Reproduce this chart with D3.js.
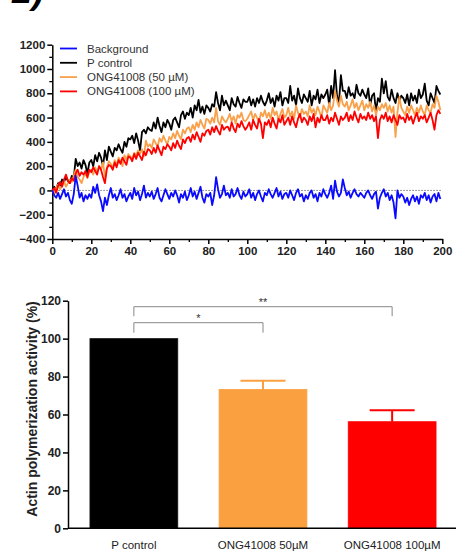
<!DOCTYPE html>
<html>
<head>
<meta charset="utf-8">
<script src="https://cdn.jsdelivr.net/npm/d3@7"></script>
<style>
  body { margin: 0; background: #fff; }
  svg { display: block; font-family: Arial, "Liberation Sans", sans-serif; }
  .tick text { fill: #222; }
</style>
</head>
<body>
<div id="chart"></div>
<script>
// ---- time course data (x = 0..199) ----
const background = [
  0, -40, -60, -20, -70, -30, 10, -50, -20, -80,
  -110, -30, 120, 40, -60, -20, -90, -40, -70, -30,
  -60, 30, -20, 50, -40, -90, -170, -60, -120, -40,
  20, -60, -30, -80, -40, 10, -60, -30, -90, -50,
  -20, -70, 20, -40, -10, -80, -30, 40, -60, -20,
  -50, -10, -70, -30, 20, -60, -90, -40, 10, -30,
  -70, -20, -50, 0, -40, -100, -30, -60, -10, -80,
  -40, 20, -50, -10, -70, -20, 30, -60, -100, -30,
  -50, -20, -120, -40, 110, 10, -60, -30, 40, -40,
  -20, -60, 10, -50, -30, 20, -40, -70, -10, -50,
  -30, 10, -60, -20, -80, -30, 0, -50, -90, -20,
  -40, 10, -30, -60, -20, 20, -50, -10, -70, -30,
  -20, -60, 0, -40, -80, -20, 10, -50, -30, -90,
  -40, -70, -20, 0, -60, -30, -90, -20, -50, 10,
  -30, -60, -20, 40, -70, 80, -10, -50, -20, 90,
  20, -40, -10, -60, -20, 10, -30, -50, -20, -40,
  -60, -20, 0, -40, -70, -30, -10, -150, -60, -20,
  10, -50, -20, -80, -40, -100, -230, 0, -60, -30,
  -50, -100, -60, -120, -70, -40, -90, -50, -110, -40,
  -60, -20, -80, -40, -100, -50, -30, -90, -20, -70
];
const pControl = [
  0, 30, 10, 60, 40, 90, 70, 110, 80, 60,
  120, 100, 260, 200, 230, 180, 250, 210, 140, 230,
  250, 200, 290, 240, 310, 270, 200, 330, 250, 360,
  320, 280, 350, 330, 380, 340, 310, 400, 360, 430,
  420, 450, 390, 470, 410, 330, 480, 500, 470, 520,
  500, 490, 560, 510, 600, 530, 480, 560, 520, 580,
  550, 500, 580, 600, 560, 520, 620, 650, 590, 640,
  620, 680, 600, 700, 660, 745, 640, 690, 630, 700,
  680, 650, 710, 690, 810, 720, 660, 780, 700, 740,
  700, 660, 760, 710, 690, 770, 720, 680, 750, 730,
  730, 770, 700, 750, 690, 760, 720, 780, 730, 700,
  740, 800, 720, 760, 690, 780, 740, 810, 700, 760,
  760, 720, 860, 740, 780, 700, 840, 760, 720, 790,
  760, 730, 820, 700, 780, 750, 830, 720, 790, 760,
  790, 830, 700, 860, 760, 990, 780, 720, 950, 820,
  820, 760, 850, 780, 800, 760, 870, 800, 780, 830,
  790, 760, 840, 700, 780, 800, 650, 760, 730, 920,
  800, 900, 770, 740, 830, 760, 720, 800, 740, 780,
  760, 720, 790, 700, 800, 740, 780, 720, 830, 760,
  790, 880, 740, 700, 800, 760, 720, 860, 820, 790
];
const ong50 = [
  0, -30, 20, 50, 10, 40, 80, 30, 60, 90,
  70, 120, 170, 110, 90, 60, 110, 140, 100, 160,
  170, 130, 190, 150, 200, 170, 230, 110, 190, 240,
  220, 180, 250, 210, 270, 240, 200, 290, 250, 300,
  280, 260, 310, 290, 330, 300, 340, 280, 410, 360,
  380, 350, 420, 390, 360, 430, 400, 450, 410, 380,
  440, 420, 470, 430, 490, 450, 420, 500, 470, 510,
  520, 480, 540, 500, 560, 520, 580, 540, 510, 590,
  580, 550, 600, 560, 680, 570, 540, 610, 580, 560,
  590, 630, 570, 610, 550, 620, 600, 640, 580, 570,
  590, 620, 650, 580, 630, 600, 560, 640, 610, 660,
  600, 640, 590, 680, 620, 650, 580, 630, 670, 600,
  620, 680, 610, 650, 590, 700, 640, 600, 670, 630,
  650, 610, 700, 640, 670, 620, 690, 650, 600, 700,
  670, 640, 720, 660, 700, 820, 740, 690, 780, 710,
  690, 730, 660, 700, 750, 680, 720, 660, 700, 740,
  660, 710, 680, 730, 650, 700, 620, 690, 660, 710,
  680, 720, 650, 700, 640, 690, 440, 640, 770, 680,
  650, 620, 690, 640, 700, 660, 620, 680, 640, 700,
  650, 620, 700, 660, 640, 710, 680, 780, 730, 660
];
const ong100 = [
  0, 20, -20, 40, 70, 30, 90, 130, 80, 60,
  100, 80, 140, 170, 120, 150, 130, 160, 110, 170,
  150, 190, 160, 130, 200, 170, 110, 60, 180, 210,
  200, 170, 230, 190, 250, 220, 270, 240, 210, 280,
  270, 240, 300, 260, 310, 280, 250, 320, 290, 340,
  330, 300, 350, 310, 370, 330, 290, 360, 340, 380,
  360, 330, 390, 350, 410, 370, 340, 420, 390, 430,
  440, 400, 460, 420, 480, 440, 400, 470, 450, 490,
  500, 460, 520, 480, 530, 490, 460, 540, 500, 520,
  525, 490, 560, 510, 480, 550, 520, 570, 530, 500,
  525, 560, 500, 580, 540, 510, 590, 550, 430, 560,
  540, 580, 520, 600, 550, 510, 590, 560, 620, 540,
  570, 600, 540, 610, 560, 520, 590, 630, 560, 600,
  580, 540, 610, 570, 630, 520, 600, 560, 620, 580,
  580, 620, 550, 600, 570, 640, 590, 540, 610, 580,
  600, 640, 570, 620, 580, 650, 600, 560, 630, 590,
  610, 580, 640, 590, 620, 570, 610, 430, 580, 620,
  590, 640, 570, 610, 560, 620, 580, 540, 620, 590,
  600, 560, 630, 580, 610, 550, 600, 640, 570, 610,
  590, 620, 560, 600, 640, 580, 500, 620, 660, 630
];
const seriesNames = ["Background", "P control", "ONG41008 (50 \u00b5M)", "ONG41008 (100 \u00b5M)"];
const seriesColors = ["#0a0aff", "#000000", "#f9a04a", "#ff0000"];

// ---- bar chart data ----
const groups = ["P control", "ONG41008 50\u00b5M", "ONG41008 100\u00b5M"];
const activity = [100, 73.2, 56.2];
const activityErr = [0, 4.6, 6];
const barColors = ["#000000", "#fba040", "#ff0000"];

const width = 457, height = 555;
const svg = d3.select("#chart").append("svg")
    .attr("width", width)
    .attr("height", height);

// panel letter, cut by the top edge as in the source figure
svg.append("text")
    .attr("x", 12).attr("y", 3)
    .attr("font-size", 36).attr("font-weight", "bold").attr("font-style", "italic")
    .text("2)");

/* ========== TOP: time course ========== */
const x1 = d3.scaleLinear().domain([0, 200]).range([52.3, 442.3]);
const y1 = d3.scaleLinear().domain([-400, 1200]).range([239, 44.7]);

// minor ticks
svg.append("g")
    .attr("transform", `translate(0,${y1(-400)})`)
    .call(d3.axisBottom(x1).tickValues(d3.range(10, 200, 20)).tickSize(3).tickFormat(""))
    .call(g => g.select(".domain").remove())
    .selectAll("line").attr("stroke-width", 1.3);
svg.append("g")
    .attr("transform", `translate(${x1(0)},0)`)
    .call(d3.axisLeft(y1).tickValues(d3.range(-300, 1200, 200)).tickSize(3).tickFormat(""))
    .call(g => g.select(".domain").remove())
    .selectAll("line").attr("stroke-width", 1.3);

const xAxis1 = svg.append("g")
    .attr("transform", `translate(0,${y1(-400)})`)
    .call(d3.axisBottom(x1).tickValues(d3.range(0, 201, 20)).tickSize(5).tickSizeOuter(0).tickPadding(3));
const yAxis1 = svg.append("g")
    .attr("transform", `translate(${x1(0)},0)`)
    .call(d3.axisLeft(y1).tickValues(d3.range(-400, 1201, 200)).tickFormat(d3.format("d"))
        .tickSize(5).tickSizeOuter(0).tickPadding(2));
[xAxis1, yAxis1].forEach(a => {
    a.selectAll("path, line").attr("stroke-width", 1.5);
    a.selectAll("text").attr("font-size", 11.5).attr("font-weight", "bold")
        .attr("font-family", "Arial, 'Liberation Sans', sans-serif");
});

// dotted zero line
svg.append("line")
    .attr("x1", x1(0)).attr("x2", x1(200))
    .attr("y1", y1(0)).attr("y2", y1(0))
    .attr("stroke", "#777").attr("stroke-width", 1)
    .attr("stroke-dasharray", "1.5,1.5");

const line = d3.line()
    .x((d, i) => x1(i))
    .y(d => y1(d));

const allSeries = [background, pControl, ong50, ong100];
const drawOrder = [1, 2, 3, 0];
drawOrder.forEach(k => {
    svg.append("path")
        .datum(allSeries[k])
        .attr("d", line)
        .attr("fill", "none")
        .attr("stroke", seriesColors[k])
        .attr("stroke-width", 1.8)
        .attr("stroke-linejoin", "round");
});

// legend
seriesNames.forEach((name, i) => {
    const ly = 48.5 + i * 14.3;
    svg.append("line")
        .attr("x1", 60).attr("x2", 77)
        .attr("y1", ly).attr("y2", ly)
        .attr("stroke", seriesColors[i]).attr("stroke-width", 1.8);
    svg.append("text")
        .attr("x", 87).attr("y", ly + 4)
        .attr("font-size", 11.5).attr("fill", "#333")
        .text(name);
});

/* ========== BOTTOM: bar chart ========== */
const x2 = d3.scaleBand().domain(groups).range([68, 458]).paddingInner(0.32).paddingOuter(0.17);
const y2 = d3.scaleLinear().domain([0, 120]).range([528.3, 300.7]);

svg.selectAll("rect.bar")
    .data(groups)
    .enter()
    .append("rect")
    .attr("class", "bar")
    .attr("x", d => x2(d))
    .attr("y", (d, i) => y2(activity[i]))
    .attr("width", x2.bandwidth())
    .attr("height", (d, i) => y2(0) - y2(activity[i]))
    .attr("fill", (d, i) => barColors[i])
    .attr("stroke", (d, i) => i === 0 ? "#111" : barColors[i])
    .attr("stroke-width", 0.8);

// error bars (upper only)
groups.forEach((g, i) => {
    if (!activityErr[i]) return;
    const cx = x2(g) + x2.bandwidth() / 2;
    const top = y2(activity[i] + activityErr[i]);
    svg.append("line")
        .attr("x1", cx).attr("x2", cx)
        .attr("y1", y2(activity[i])).attr("y2", top)
        .attr("stroke", barColors[i]).attr("stroke-width", 2);
    svg.append("line")
        .attr("x1", cx - 22.5).attr("x2", cx + 22.5)
        .attr("y1", top).attr("y2", top)
        .attr("stroke", barColors[i]).attr("stroke-width", 2);
});

const xAxis2 = svg.append("g")
    .attr("transform", `translate(0,${y2(0)})`)
    .call(d3.axisBottom(x2).tickSize(0).tickPadding(13));
xAxis2.select(".domain").attr("d", `M68,0H456`).attr("stroke-width", 1.5);
xAxis2.selectAll("text").attr("font-size", 11.5).attr("fill", "#222")
    .attr("font-family", "Arial, 'Liberation Sans', sans-serif");

const yAxis2 = svg.append("g")
    .attr("transform", `translate(68,0)`)
    .call(d3.axisLeft(y2).tickValues(d3.range(0, 121, 20)).tickSize(5).tickSizeOuter(0).tickPadding(2));
yAxis2.selectAll("path, line").attr("stroke-width", 1.5);
yAxis2.selectAll("text").attr("font-size", 12).attr("font-weight", "bold")
    .attr("font-family", "Arial, 'Liberation Sans', sans-serif");

svg.append("text")
    .attr("transform", "rotate(-90)")
    .attr("x", -409).attr("y", 37)
    .attr("text-anchor", "middle")
    .attr("font-size", 14).attr("font-weight", "bold").attr("fill", "#222")
    .text("Actin polymerization activity (%)");

// significance brackets
const sig = [
    {from: 0, to: 1, level: 322.7, leg: 10, label: "*"},
    {from: 0, to: 2, level: 306.7, leg: 9.5, label: "**"}
];
sig.forEach(s => {
    const xa = x2(groups[s.from]) + x2.bandwidth() / 2;
    const xb = x2(groups[s.to]) + x2.bandwidth() / 2;
    svg.append("path")
        .attr("d", `M${xa},${s.level + s.leg}V${s.level}H${xb}V${s.level + s.leg}`)
        .attr("fill", "none").attr("stroke", "#888").attr("stroke-width", 1);
    svg.append("text")
        .attr("x", (xa + xb) / 2).attr("y", s.level - 1)
        .attr("text-anchor", "middle")
        .attr("font-size", 11).attr("fill", "#333")
        .text(s.label);
});
</script>
</body>
</html>
